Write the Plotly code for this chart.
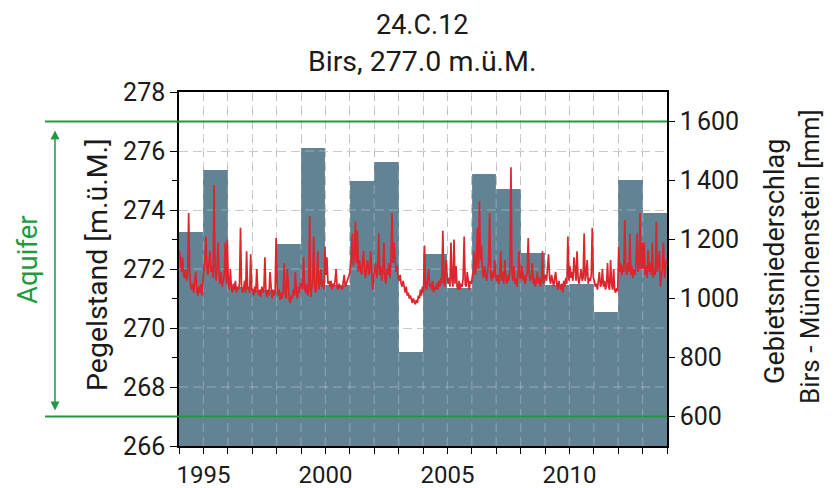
import plotly.graph_objects as go

# ---- data ----
bar_years = list(range(1994, 2014))
precip_mm = [1225, 1436, 1040, 1030, 1185, 1511, 1045, 1397, 1464, 819,
             1150, 1035, 1421, 1370, 1154, 1046, 1050, 955, 1402, 1289]

level_start_year = 1994
samples_per_year = 24
water_level = [
    # 1994
    272.6, 272.2, 271.9, 272.4, 271.8, 271.7, 272.0, 271.6, 271.8, 273.9, 271.9, 271.4,
    271.3, 271.5, 271.2, 271.6, 271.9, 271.3, 271.1, 271.4, 271.2, 271.5, 271.1, 271.6,
    # 1995
    271.9, 272.3, 273.1, 272.0, 271.8, 272.2, 272.6, 271.9, 272.1, 271.7, 274.85, 272.0,
    271.6, 272.1, 272.9, 271.7, 271.5, 271.9, 271.4, 271.6, 271.8, 272.9, 271.5, 273.0,
    # 1996
    271.5, 271.3, 272.0, 271.4, 271.2, 271.5, 271.3, 271.6, 271.2, 271.4, 271.3, 271.5,
    273.4, 271.4, 271.2, 271.3, 271.6, 271.2, 272.6, 271.3, 271.4, 271.2, 272.5, 271.3,
    # 1997
    271.3, 271.1, 271.4, 271.2, 272.0, 271.3, 271.1, 271.3, 271.05, 271.4, 271.2, 271.3,
    272.4, 271.2, 271.05, 271.3, 271.1, 271.9, 271.2, 271.0, 271.3, 271.1, 271.2, 273.05,
    # 1998
    271.4, 271.1, 271.3, 270.95, 271.2, 271.0, 271.3, 272.2, 271.1, 271.0, 272.0, 271.2,
    270.95, 270.85, 271.1, 271.0, 271.3, 271.1, 271.9, 271.2, 271.0, 271.4, 271.2, 271.5,
    # 1999
    271.5, 271.3, 272.4, 271.4, 271.2, 271.5, 271.1, 271.3, 273.8, 271.05, 271.3, 271.6,
    273.1, 271.4, 271.2, 271.6, 272.6, 271.3, 271.5, 272.0, 271.4, 271.6, 271.3, 272.75,
    # 2000
    271.8, 272.4, 271.5, 271.6, 271.4, 271.6, 271.3, 271.5, 271.4, 271.6, 272.0, 271.4,
    271.3, 271.5, 271.35, 271.4, 271.3, 271.5, 271.8, 271.4, 271.5, 271.6, 271.7, 271.8,
    # 2001
    272.0, 272.4, 273.2, 272.1, 272.5, 273.6, 272.2, 273.3, 271.9, 272.3, 272.0, 271.8,
    272.2, 272.6, 271.9, 271.7, 272.1, 272.3, 271.8, 271.9, 272.6, 271.7, 271.3, 271.8,
    # 2002
    271.9, 272.2, 271.7, 272.0, 273.2, 271.8, 272.1, 271.6, 271.9, 272.9, 271.7, 271.5,
    272.0, 271.8, 272.2, 271.7, 272.3, 273.9, 272.2, 272.9, 272.4, 271.9, 272.1, 271.7,
    # 2003
    271.6, 271.8, 271.5, 271.4, 271.6, 271.3, 271.2, 271.4, 271.1, 271.2, 271.0, 271.1,
    270.95, 270.85, 271.0, 270.9, 270.8, 270.95, 270.85, 271.1, 271.0, 271.3, 271.1, 271.4,
    # 2004
    271.2, 272.8, 271.4, 271.3, 271.6, 272.0, 271.4, 271.5, 271.3, 271.6, 271.2, 271.4,
    271.3, 271.5, 271.3, 271.6, 271.4, 271.7, 271.5, 273.3, 271.6, 271.4, 272.3, 272.0,
    # 2005
    271.5, 271.7, 271.4, 272.9, 271.6, 271.4, 273.0, 271.5, 272.1, 271.4, 271.3, 271.6,
    271.3, 271.5, 271.4, 271.7, 273.1, 271.5, 271.4, 271.9, 271.5, 271.3, 271.6, 271.5,
    # 2006
    271.7, 271.9, 272.6, 271.8, 272.2, 273.4, 272.0, 274.3, 272.3, 272.8, 271.9, 271.7,
    272.1, 271.8, 271.6, 271.9, 272.2, 273.9, 271.8, 271.6, 271.9, 271.7, 272.3, 271.8,
    # 2007
    271.6, 271.8, 271.5, 271.7, 272.6, 271.6, 271.9, 271.5, 272.3, 271.7, 271.5, 271.8,
    271.6, 272.0, 275.45, 271.9, 271.6, 272.1, 271.5, 271.7, 271.4, 271.8, 272.6, 271.7,
    # 2008
    271.7, 272.1, 271.6, 271.8, 271.5, 271.7, 271.9, 273.05, 271.8, 271.6, 271.7, 272.2,
    271.5, 271.7, 271.4, 271.6, 271.9, 271.5, 271.7, 271.4, 271.6, 272.6, 271.5, 271.7,
    # 2009
    271.8, 271.6, 272.3, 272.5, 271.7, 271.5, 271.8, 271.6, 271.4, 271.7, 271.9, 271.5,
    271.3, 271.6, 271.4, 271.3, 271.5, 271.2, 271.6, 271.4, 271.7, 271.5, 273.1, 271.6,
    # 2010
    272.1, 271.7, 271.9, 271.6, 272.4, 271.8, 271.6, 272.6, 271.7, 271.5, 271.8, 272.0,
    271.6, 271.7, 273.2, 271.6, 271.8, 272.3, 271.5, 271.7, 271.6, 271.8, 273.4, 271.7,
    # 2011
    271.6, 271.4, 271.5, 271.3, 271.6, 271.9, 271.4, 271.5, 272.0, 271.4, 271.6, 271.3,
    271.5, 272.2, 271.4, 271.3, 272.3, 271.5, 271.3, 272.0, 271.3, 271.2, 271.35, 271.25,
    # 2012
    272.75, 271.9, 272.2, 271.8, 272.1, 271.9, 273.66, 272.0, 271.8, 272.2, 271.9, 273.2,
    271.8, 272.1, 271.7, 272.0, 271.8, 272.2, 273.2, 271.9, 272.1, 273.9, 272.0, 272.9,
    # 2013
    272.0, 272.9, 271.8, 272.1, 271.7, 272.65, 271.9, 272.2, 271.8, 272.9, 271.7, 272.0,
    271.8, 273.6, 271.9, 272.1, 272.6, 271.4, 271.8, 272.0, 272.9, 271.7, 272.1, 272.3,
]

aquifer_top = 277.0
aquifer_bottom = 267.0

x_tick_vals = [1995, 2000, 2005, 2010]
x_tick_text = ["1995", "2000", "2005", "2010"]
left_tick_vals = [266, 268, 270, 272, 274, 276, 278]
right_tick_vals = [600, 800, 1000, 1200, 1400, 1600]
right_tick_text = ["600", "800", "1\u202f000", "1\u202f200", "1\u202f400", "1\u202f600"]
grid_years = list(range(1995, 2014))
grid_levels = [268, 270, 272, 274, 276]

title_line1 = "24.C.12"
title_line2 = "Birs, 277.0 m.ü.M."

# ---- styling ----
FONT = "Roboto"
BAR_COLOR = "#628394"
RED = "#dc252c"
GREEN = "#1f9a40"
GRID = "#c4c0b8"
TXT = "#1a1a1a"
FS = 25

bar_x = [y + 0.5 for y in bar_years]
level_x = [level_start_year + (i + 0.5) / samples_per_year for i in range(len(water_level))]

# faint grid overlay drawn above the bars (on the level axis)
gx, gy = [], []
for yr in grid_years:
    gx += [yr, yr, None]
    gy += [266, 278, None]
for lv in grid_levels:
    gx += [1994, 2014, None]
    gy += [lv, lv, None]

fig = go.Figure()
fig.add_trace(go.Bar(x=bar_x, y=precip_mm, width=1.0, marker=dict(color=BAR_COLOR, line=dict(width=0)),
                     xaxis="x", yaxis="y", showlegend=False, hoverinfo="skip"))
fig.add_trace(go.Scatter(x=gx, y=gy, mode="lines", line=dict(color="rgba(255,255,255,0.22)", width=1.3, dash="9px,5px"),
                         xaxis="x", yaxis="y2", showlegend=False, hoverinfo="skip"))
fig.add_trace(go.Scatter(x=level_x, y=water_level, mode="lines", line=dict(color=RED, width=1.7),
                         xaxis="x", yaxis="y2", showlegend=False))

PX_W = 836 - 179 - 169
PX_H = 488 - 92 - 42


def px_x(p):
    return (p - 179) / PX_W


def px_y(p):
    return (446 - p) / PX_H


fig.update_layout(
    width=836, height=488,
    margin=dict(l=179, r=169, t=92, b=42, pad=0, autoexpand=False),
    paper_bgcolor="white", plot_bgcolor="white",
    font=dict(family=FONT, size=FS, color=TXT),
    bargap=0,
    xaxis=dict(range=[1994, 2014], tickvals=x_tick_vals, ticktext=x_tick_text, automargin=False,
               ticks="outside", ticklen=6, tickwidth=1.3, tickcolor="black",
               showline=True, linecolor="black", linewidth=1.5, mirror=True,
               showgrid=True, gridcolor=GRID, gridwidth=1.3, griddash="9px,5px", zeroline=False,
               minor=dict(dtick=1, tick0=1994, ticks="outside", ticklen=6, tickcolor="black",
                          showgrid=True, gridcolor=GRID, gridwidth=1.3, griddash="9px,5px"),
               tickfont=dict(size=24)),
    yaxis=dict(range=[500, 1700], side="right", tickvals=right_tick_vals, ticktext=right_tick_text,
               automargin=False,
               ticks="outside", ticklen=6, tickwidth=1.3, tickcolor="black",
               showline=True, linecolor="black", linewidth=1.5,
               showgrid=False, zeroline=False, tickfont=dict(size=FS)),
    yaxis2=dict(range=[266, 278], overlaying="y", side="left", tickvals=left_tick_vals, automargin=False,
                ticks="outside", ticklen=7, tickwidth=1.3, tickcolor="black",
                showline=True, linecolor="black", linewidth=1.5,
                showgrid=True, gridcolor=GRID, gridwidth=1.3, griddash="9px,5px",
                zeroline=False, tickfont=dict(size=FS),
                minor=dict(dtick=1, tick0=266, ticks="outside", ticklen=5, tickcolor="black", showgrid=False)),
)

for lv in (aquifer_top, aquifer_bottom):
    fig.add_shape(type="line", xref="paper", yref="y2", x0=px_x(45), x1=1.0, y0=lv, y1=lv,
                  line=dict(color=GREEN, width=2), layer="above")

fig.add_annotation(xref="paper", yref="y2", x=px_x(55), y=aquifer_bottom + 0.2, ax=0, ay=-(9.55 * PX_H / 12),
                   axref="pixel", ayref="pixel", text="", showarrow=True, arrowhead=2, arrowsize=1.2,
                   arrowwidth=1.5, arrowcolor=GREEN, arrowside="end+start")
fig.add_annotation(xref="paper", yref="paper", x=px_x(27), y=px_y(260), text="Aquifer",
                   textangle=-90, showarrow=False, font=dict(color=GREEN, size=27.5), xanchor="center", yanchor="middle")
fig.add_annotation(xref="paper", yref="paper", x=px_x(97), y=px_y(265), text="Pegelstand [m.ü.M.]",
                   textangle=-90, showarrow=False, font=dict(size=28.5), xanchor="center", yanchor="middle")
fig.add_annotation(xref="paper", yref="paper", x=px_x(775), y=px_y(262), text="Gebietsniederschlag",
                   textangle=-90, showarrow=False, font=dict(size=27), xanchor="center", yanchor="middle")
fig.add_annotation(xref="paper", yref="paper", x=px_x(810), y=px_y(257), text="Birs - Münchenstein [mm]",
                   textangle=-90, showarrow=False, font=dict(size=26), xanchor="center", yanchor="middle")
fig.add_annotation(xref="paper", yref="paper", x=px_x(422), y=px_y(25), text=title_line1,
                   showarrow=False, font=dict(size=27), xanchor="center", yanchor="middle")
fig.add_annotation(xref="paper", yref="paper", x=px_x(422), y=px_y(61), text=title_line2,
                   showarrow=False, font=dict(size=28.5), xanchor="center", yanchor="middle")

fig.write_html("out.html")
